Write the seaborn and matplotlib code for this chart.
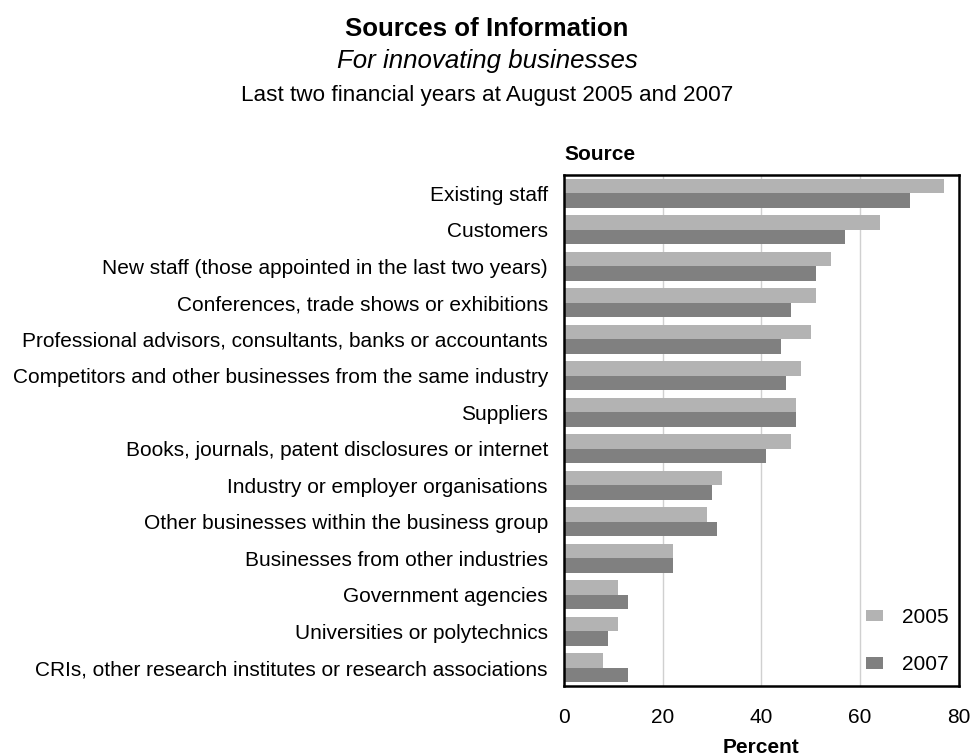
import matplotlib
matplotlib.use("Agg")
import matplotlib.pyplot as plt
import seaborn as sns
import pandas as pd
from matplotlib.patches import Patch

sources = [
    "Existing staff",
    "Customers",
    "New staff (those appointed in the last two years)",
    "Conferences, trade shows or exhibitions",
    "Professional advisors, consultants, banks or accountants",
    "Competitors and other businesses from the same industry",
    "Suppliers",
    "Books, journals, patent disclosures or internet",
    "Industry or employer organisations",
    "Other businesses within the business group",
    "Businesses from other industries",
    "Government agencies",
    "Universities or polytechnics",
    "CRIs, other research institutes or research associations",
]
pct_2005 = [77, 64, 54, 51, 50, 48, 47, 46, 32, 29, 22, 11, 11, 8]
pct_2007 = [70, 57, 51, 46, 44, 45, 47, 41, 30, 31, 22, 13, 9, 13]
years = ["2005", "2007"]
colors = {"2005": "#b3b3b3", "2007": "#808080"}

df = pd.DataFrame({
    "Source": sources * 2,
    "Percent": pct_2005 + pct_2007,
    "Year": [years[0]] * len(sources) + [years[1]] * len(sources),
})

sns.set_style("white")
plt.rcParams["font.family"] = ["Liberation Sans", "DejaVu Sans"]
plt.rcParams["text.color"] = "black"
plt.rcParams["axes.labelcolor"] = "black"

fig = plt.figure(figsize=(9.74, 7.56), dpi=100)
ax = fig.add_axes([0.579, 0.0926, 0.4055, 0.676])

sns.barplot(data=df, y="Source", x="Percent", hue="Year", order=sources,
            hue_order=years, palette=colors, orient="h", width=0.8,
            saturation=1, ax=ax, legend=False, linewidth=0)

ax.set_xlim(0, 80)
ax.set_ylim(len(sources) - 0.5, -0.5)
ax.set_xticks([0, 20, 40, 60, 80])
ax.xaxis.grid(True, color="#d0d0d0", linewidth=1)
ax.set_axisbelow(True)
ax.tick_params(axis="both", length=0, labelsize=15, colors="black")
ax.tick_params(axis="x", pad=16)
ax.tick_params(axis="y", pad=11.5)
ax.set_xlabel("Percent", fontsize=15, fontweight="bold", labelpad=8)
ax.set_ylabel("")
for side, sp in ax.spines.items():
    sp.set_visible(True)
    sp.set_color("black")
    sp.set_linewidth(1.8)

ax.text(0.0, 1.022, "Source", transform=ax.transAxes, fontsize=15,
        fontweight="bold", ha="left", va="bottom")

handles = [Patch(facecolor=colors[y], edgecolor="none") for y in years]
ax.legend(handles, years, loc="lower right", frameon=False, fontsize=15,
          labelspacing=1.35, handlelength=0.8, handleheight=0.5,
          handletextpad=0.9, borderaxespad=0.3,
          bbox_to_anchor=(1.01, -0.005))

fig.text(0.5, 0.962, "Sources of Information", ha="center", va="center",
         fontsize=18.6, fontweight="bold")
fig.text(0.5, 0.919, "For innovating businesses", ha="center", va="center",
         fontsize=18.6, fontstyle="italic")
fig.text(0.5, 0.874, "Last two financial years at August 2005 and 2007",
         ha="center", va="center", fontsize=16.2)

fig.savefig("out.png", dpi=100)
